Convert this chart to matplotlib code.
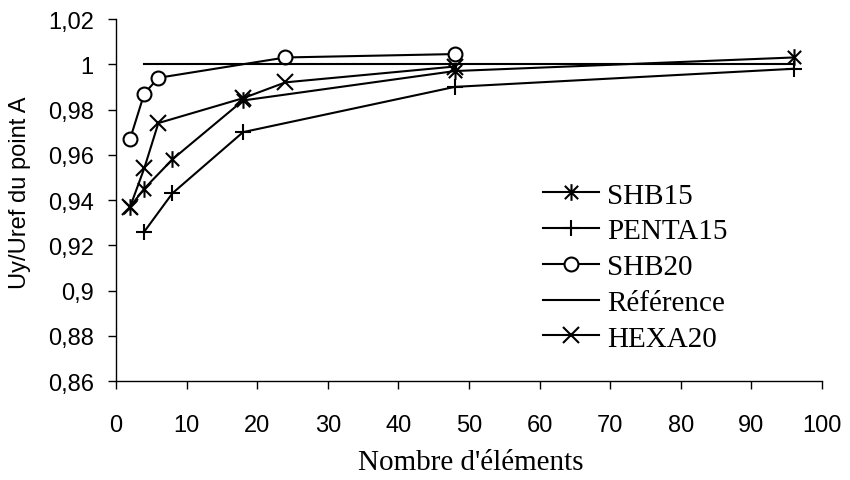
import matplotlib
matplotlib.use("Agg")
import matplotlib.pyplot as plt
from matplotlib.path import Path
from matplotlib.ticker import FuncFormatter

# Data
shb15_x = [2, 4, 8, 18, 48, 96]
shb15_y = [0.937, 0.945, 0.958, 0.984, 0.997, 1.003]

penta15_x = [4, 8, 18, 48, 96]
penta15_y = [0.926, 0.943, 0.970, 0.990, 0.998]

shb20_x = [2, 4, 6, 24, 48]
shb20_y = [0.967, 0.987, 0.994, 1.003, 1.0045]

ref_x = [4, 96]
ref_y = [1.0, 1.0]

hexa20_x = [2, 4, 6, 18, 24, 48]
hexa20_y = [0.937, 0.954, 0.974, 0.985, 0.992, 0.999]

x_ticks = [0, 10, 20, 30, 40, 50, 60, 70, 80, 90, 100]
y_ticks = [0.86, 0.88, 0.90, 0.92, 0.94, 0.96, 0.98, 1.00, 1.02]

# asterisk marker: X plus vertical bar
star = Path([(0, -1), (0, 1), (-0.8, -0.8), (0.8, 0.8), (-0.8, 0.8), (0.8, -0.8)],
            [Path.MOVETO, Path.LINETO, Path.MOVETO, Path.LINETO, Path.MOVETO, Path.LINETO])

sans = ["Liberation Sans", "DejaVu Sans"]
serif = ["Liberation Serif", "DejaVu Serif"]

fig = plt.figure(figsize=(8.5, 4.81), dpi=100)
ax = fig.add_axes([116 / 850, 1 - 382 / 481, 706 / 850, 362 / 481])

lw = 1.5
kw = dict(color="black", lw=lw, mec="black", mew=1.5)
ax.plot(shb15_x, shb15_y, marker=star, ms=12, label="SHB15", **kw)
ax.plot(penta15_x, penta15_y, marker="+", ms=12, label="PENTA15", **kw)
ax.plot(shb20_x, shb20_y, marker="o", ms=10, mfc="white", label="SHB20", **kw)
ax.plot(ref_x, ref_y, label="Référence", color="black", lw=lw)
ax.plot(hexa20_x, hexa20_y, marker="x", ms=12, label="HEXA20", **kw)

ax.set_xlim(0, 100)
ax.set_ylim(0.86, 1.02)
ax.set_xticks(x_ticks)
ax.set_yticks(y_ticks)
ax.yaxis.set_major_formatter(FuncFormatter(lambda v, p: ("%g" % round(v, 2)).replace(".", ",")))

for s in ["top", "right"]:
    ax.spines[s].set_visible(False)
for s in ["left", "bottom"]:
    ax.spines[s].set_linewidth(1.0)

ax.tick_params(axis="y", direction="out", length=6, width=1, pad=10, labelsize=17)
ax.tick_params(axis="x", direction="out", length=6, width=1, pad=18, labelsize=17)
for t in ax.get_xticklabels() + ax.get_yticklabels():
    t.set_family(sans)

ax.set_ylabel("Uy/Uref du point A", family=sans, fontsize=17)
ax.yaxis.label.set_va("center")
ax.yaxis.set_label_coords(-0.136, 0.522)
ax.set_xlabel("Nombre d'éléments", family=serif, fontsize=21)
ax.xaxis.label.set_va("center")
ax.xaxis.set_label_coords(0.503, -0.224)

ax.legend(loc="center left", bbox_to_anchor=(0.605, 0.315), frameon=False,
          borderpad=0, borderaxespad=0, handlelength=1.9, handletextpad=0.3,
          labelspacing=0.32, prop={"family": serif, "size": 21})

plt.savefig("out.png", dpi=100)
